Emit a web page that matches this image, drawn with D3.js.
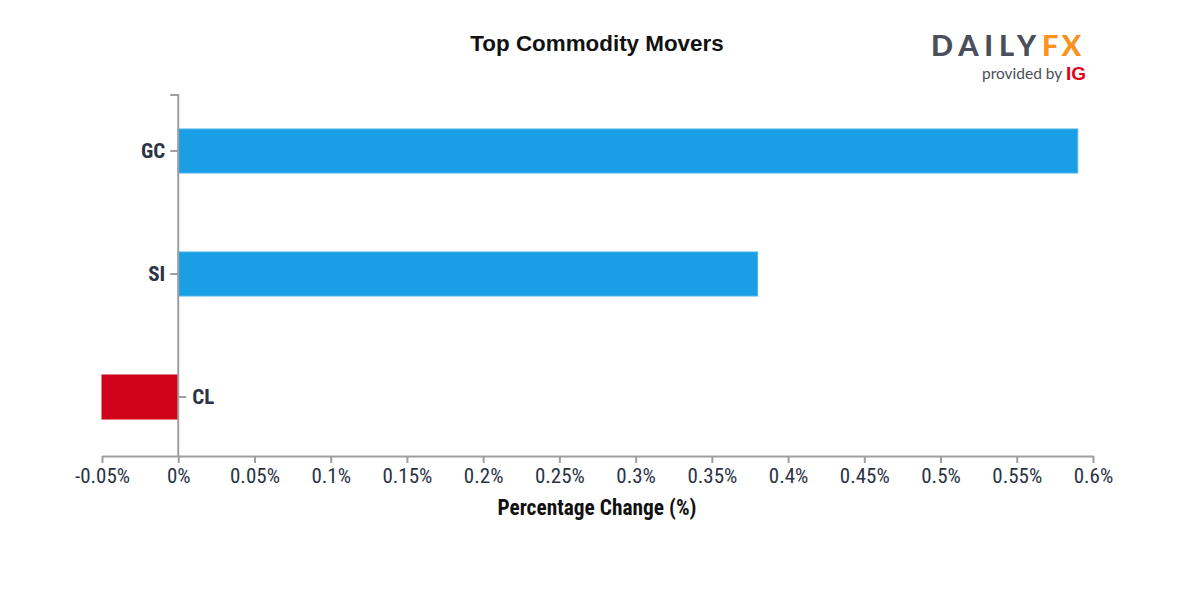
<!DOCTYPE html>
<html><head><meta charset="utf-8">
<script src="https://cdn.jsdelivr.net/npm/d3@7"></script>
<style>body{margin:0;background:#fff}svg{display:block}</style>
</head><body>
<script>
const categories = ["GC", "SI", "CL"];
const values = [0.59, 0.38, -0.05];
const xTicks = [-0.05, 0, 0.05, 0.1, 0.15, 0.2, 0.25, 0.3, 0.35, 0.4, 0.45, 0.5, 0.55, 0.6];
const tickLabels = ["-0.05%", "0%", "0.05%", "0.1%", "0.15%", "0.2%", "0.25%", "0.3%", "0.35%", "0.4%", "0.45%", "0.5%", "0.55%", "0.6%"];

const W = 1200, H = 600;
const svg = d3.select("body").append("svg").attr("width", W).attr("height", H);
const textCol = "#2b3346", axisCol = "#9e9e9e";
const cond = "Roboto, 'Noto Sans', sans-serif";

const x = d3.scaleLinear().domain([-0.05, 0.6]).range([102, 1093]);
const y = d3.scaleBand().domain(categories).range([89.5, 458.5]).paddingInner(0.642).paddingOuter(0.321);
const axisY = 456;

// title
svg.append("text").attr("x", 597).attr("y", 51).attr("text-anchor", "middle")
  .attr("font-family", "Liberation Sans, Arial, sans-serif").attr("font-weight", "bold")
  .attr("font-size", 22.4).attr("fill", "#111").text("Top Commodity Movers");

// bars
svg.append("g").selectAll("rect").data(values).join("rect")
  .attr("x", d => x(Math.min(0, d)))
  .attr("y", (d, i) => y(categories[i]))
  .attr("width", d => Math.abs(x(d) - x(0)))
  .attr("height", y.bandwidth())
  .attr("fill", d => d >= 0 ? "#1a9ee6" : "#d0021b")
  .attr("stroke", d => d >= 0 ? "#4db5ee" : "#d0021b")
  .attr("stroke-width", 1);

// x axis
const xa = svg.append("g").attr("transform", `translate(0,${axisY})`)
  .call(d3.axisBottom(x).tickValues(xTicks).tickSize(7).tickSizeOuter(0)
    .tickFormat((d, i) => tickLabels[i]));
xa.select(".domain").attr("stroke", axisCol).attr("stroke-width", 2);
xa.selectAll(".tick line").attr("stroke", axisCol).attr("stroke-width", 2);
xa.selectAll(".tick text").attr("font-family", cond).attr("font-size", 21)
  .attr("fill", textCol).attr("dy", 0).attr("y", 27)
  .attr("transform", null).style("font-stretch", "condensed");

// y axis
const ya = svg.append("g").attr("transform", `translate(${x(0)},0)`);
ya.append("path").attr("d", `M${-8},95H0V${axisY}`).attr("fill", "none")
  .attr("stroke", axisCol).attr("stroke-width", 2);
categories.forEach((c, i) => {
  const neg = values[i] < 0;
  const cy = y(c) + y.bandwidth() / 2;
  ya.append("line").attr("x1", 0).attr("x2", neg ? 8 : -8).attr("y1", cy).attr("y2", cy)
    .attr("stroke", axisCol).attr("stroke-width", 2);
  ya.append("text").attr("x", neg ? 14 : -13).attr("y", cy).attr("dy", "0.35em")
    .attr("text-anchor", neg ? "start" : "end")
    .attr("font-family", cond).attr("font-weight", "bold").attr("font-size", 21)
    .attr("fill", textCol).style("font-stretch", "condensed").text(c);
});

// axis title
svg.append("text").attr("x", 597).attr("y", 515).attr("text-anchor", "middle")
  .attr("font-family", cond).attr("font-weight", "bold").attr("font-size", 21.4)
  .attr("fill", "#111").style("font-stretch", "condensed").text("Percentage Change (%)");

// logo
const logo = svg.append("g");
logo.append("text").attr("x", 931).attr("y", 56).attr("font-family", "Lato, 'Open Sans', sans-serif")
  .attr("font-weight", "900").attr("font-size", 29).attr("letter-spacing", 5.8)
  .attr("fill", "#4b4f59").text("DAILY")
  .append("tspan").attr("fill", "#f7931e").attr("letter-spacing", 3).text("FX");
logo.append("text").attr("x", 982).attr("y", 79).attr("font-family", "Lato, 'Open Sans', sans-serif")
  .attr("font-size", 15.5).attr("fill", "#4b4f59").text("provided by");
logo.append("text").attr("x", 1066).attr("y", 80).attr("font-family", "Liberation Sans, Arial, sans-serif")
  .attr("font-weight", "bold").attr("font-size", 19).attr("fill", "#e3001b").text("IG");
</script>
</body></html>
